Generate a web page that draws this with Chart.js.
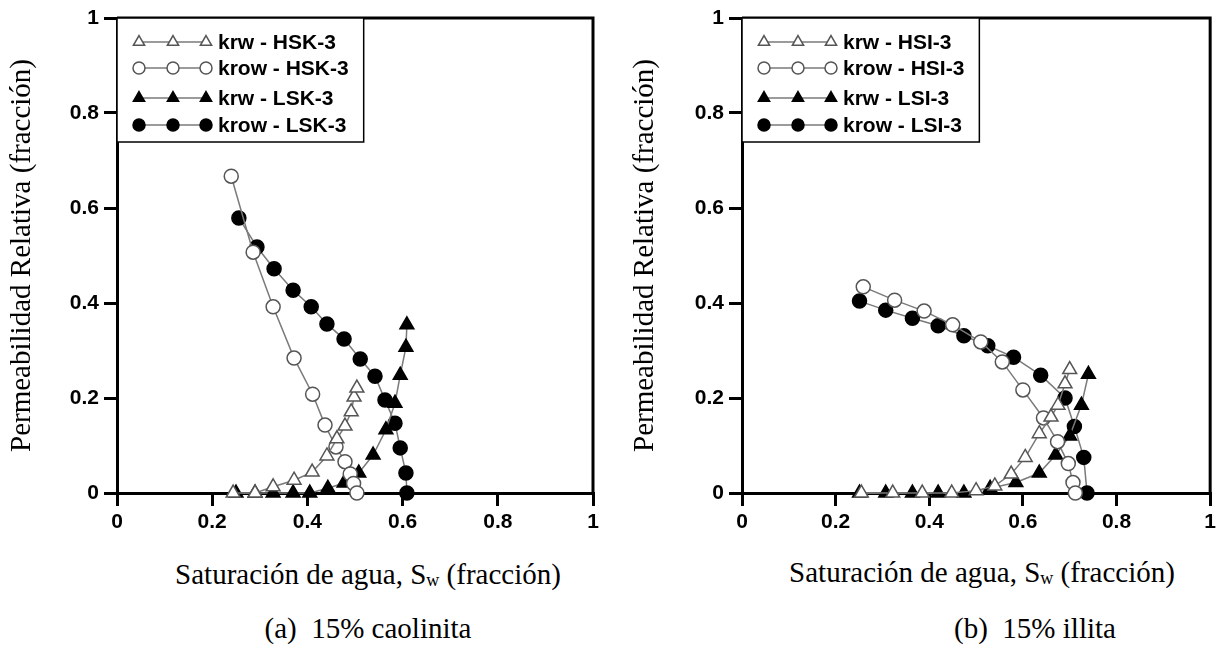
<!DOCTYPE html>
<html>
<head>
<meta charset="utf-8">
<script src="https://cdn.jsdelivr.net/npm/chart.js@4/dist/chart.umd.min.js"></script>
<style>
  body { margin: 0; background: #fff; width: 1220px; height: 657px; position: relative; overflow: hidden; }
  canvas { position: absolute; top: 0; }
  #c1 { left: 0; }
  #c2 { left: 620px; }
  .lbl { position: absolute; font-family: "Liberation Serif", "Times New Roman", serif; font-size: 29px; color: #000; white-space: nowrap; transform: translate(-50%, -50%); }
  .lbl sub { font-size: 18px; vertical-align: baseline; position: relative; top: 2px; }
</style>
</head>
<body>
<canvas id="c1" width="620" height="540"></canvas>
<canvas id="c2" width="600" height="540"></canvas>
<div class="lbl" style="left:368px; top:574px;">Saturación de agua, S<sub>w</sub>&nbsp;(fracción)</div>
<div class="lbl" style="left:368px; top:628px;">(a)&nbsp; 15% caolinita</div>
<div class="lbl" style="left:982px; top:572px;">Saturación de agua, S<sub>w</sub>&nbsp;(fracción)</div>
<div class="lbl" style="left:1035px; top:628px;">(b)&nbsp; 15% illita</div>
<script>
// (a) 15% caolinita
const krwHSK_x = [0.244, 0.29, 0.328, 0.372, 0.41, 0.441, 0.462, 0.479, 0.492, 0.498, 0.504];
const krwHSK_y = [0, 0, 0.013, 0.027, 0.044, 0.078, 0.114, 0.141, 0.171, 0.202, 0.221];
const krowHSK_x = [0.24, 0.286, 0.328, 0.372, 0.411, 0.437, 0.46, 0.479, 0.49, 0.497, 0.504];
const krowHSK_y = [0.667, 0.507, 0.392, 0.284, 0.208, 0.143, 0.097, 0.066, 0.04, 0.02, 0];
const krwLSK_x = [0.25, 0.29, 0.328, 0.37, 0.405, 0.443, 0.477, 0.508, 0.538, 0.565, 0.584, 0.595, 0.607, 0.609];
const krwLSK_y = [0, 0, 0, 0, 0, 0.01, 0.021, 0.042, 0.08, 0.133, 0.189, 0.248, 0.307, 0.354];
const krowLSK_x = [0.256, 0.294, 0.33, 0.37, 0.408, 0.441, 0.477, 0.511, 0.542, 0.563, 0.584, 0.595, 0.607, 0.609];
const krowLSK_y = [0.579, 0.518, 0.472, 0.427, 0.392, 0.356, 0.324, 0.282, 0.246, 0.196, 0.147, 0.095, 0.042, 0];

// (b) 15% illita
const krwHSI_x = [0.255, 0.322, 0.385, 0.448, 0.5, 0.54, 0.575, 0.605, 0.635, 0.66, 0.675, 0.69, 0.7];
const krwHSI_y = [0, 0, 0, 0, 0.005, 0.015, 0.04, 0.075, 0.125, 0.16, 0.185, 0.23, 0.26];
const krowHSI_x = [0.259, 0.326, 0.389, 0.45, 0.51, 0.556, 0.6, 0.644, 0.674, 0.697, 0.707, 0.712];
const krowHSI_y = [0.434, 0.406, 0.383, 0.354, 0.318, 0.276, 0.217, 0.158, 0.108, 0.062, 0.022, 0];
const krwLSI_x = [0.251, 0.307, 0.364, 0.419, 0.474, 0.53, 0.585, 0.635, 0.67, 0.7, 0.725, 0.74];
const krwLSI_y = [0, 0, 0, 0, 0, 0.01, 0.022, 0.042, 0.08, 0.12, 0.185, 0.25];
const krowLSI_x = [0.251, 0.307, 0.364, 0.419, 0.474, 0.525, 0.58, 0.638, 0.69, 0.71, 0.73, 0.737];
const krowLSI_y = [0.404, 0.385, 0.368, 0.352, 0.331, 0.31, 0.286, 0.248, 0.2, 0.14, 0.075, 0];

const labelsA = ['krw - HSK-3', 'krow - HSK-3', 'krw - LSK-3', 'krow - LSK-3'];
const labelsB = ['krw - HSI-3', 'krow - HSI-3', 'krw - LSI-3', 'krow - LSI-3'];
const yTitle = 'Permeabilidad Relativa (fracción)';

function pts(xs, ys) {
    return xs.map((x, i) => ({x: x, y: ys[i]}));
}

function makeSet(label, data, style, filled) {
    return {
        label: label,
        data: data,
        showLine: true,
        borderColor: '#7a7a7a',
        borderWidth: 1.5,
        pointStyle: style,
        pointRadius: style == 'triangle' ? 8 : 7,
        pointBackgroundColor: filled ? '#000' : '#fff',
        pointBorderColor: filled ? '#000' : '#555',
        pointBorderWidth: 1.5,
        clip: false
    };
}

// legend with three markers per row, like the original figure
const bigLegend = {
    id: 'bigLegend',
    afterDatasetsDraw(chart) {
        const ctx = chart.ctx;
        const a = chart.chartArea;
        const sets = chart.data.datasets;
        ctx.save();
        ctx.font = 'bold 21px "Liberation Sans", Arial, sans-serif';
        let w = 0;
        sets.forEach(s => { w = Math.max(w, ctx.measureText(s.label).width); });
        const left = a.left, top = a.top;
        const boxW = 102 + w + 14, boxH = 124;
        ctx.fillStyle = '#fff';
        ctx.fillRect(left, top, boxW, boxH);
        ctx.strokeStyle = '#000';
        ctx.lineWidth = 1.5;
        ctx.strokeRect(left, top, boxW, boxH);
        const rows = [24, 50, 80, 107];
        const mx = [22, 56, 89];
        sets.forEach((s, i) => {
            const y = top + rows[i];
            ctx.strokeStyle = '#7a7a7a';
            ctx.lineWidth = 1.5;
            ctx.beginPath();
            ctx.moveTo(left + mx[0], y);
            ctx.lineTo(left + mx[2], y);
            ctx.stroke();
            ctx.fillStyle = s.pointBackgroundColor;
            ctx.strokeStyle = s.pointBorderColor;
            ctx.lineWidth = 1.5;
            mx.forEach(m => {
                Chart.helpers.drawPoint(ctx, {pointStyle: s.pointStyle, radius: s.pointStyle == 'triangle' ? 6.5 : 6, rotation: 0, borderWidth: 1.5}, left + m, y);
            });
            ctx.fillStyle = '#000';
            ctx.textBaseline = 'middle';
            ctx.fillText(s.label, left + 101, y + 1);
        });
        ctx.restore();
    }
};

// top and right frame lines
const frame = {
    id: 'frame',
    beforeDatasetsDraw(chart) {
        const ctx = chart.ctx;
        const a = chart.chartArea;
        ctx.save();
        ctx.strokeStyle = '#000';
        ctx.lineWidth = 3;
        ctx.beginPath();
        ctx.moveTo(a.left, a.top);
        ctx.lineTo(a.right, a.top);
        ctx.lineTo(a.right, a.bottom);
        ctx.stroke();
        ctx.restore();
    }
};

function tickText(v) {
    return String(Math.round(v * 10) / 10);
}

function makePlot(id, sets, padLeft, yWidth, padRight) {
    const ctx = document.getElementById(id).getContext('2d');
    const tickFont = {family: '"Liberation Sans", Arial, sans-serif', size: 21, weight: 'bold'};
    return new Chart(ctx, {
        type: 'scatter',
        data: {datasets: sets},
        plugins: [frame, bigLegend],
        options: {
            responsive: false,
            animation: false,
            layout: {padding: {left: padLeft, top: 18, right: padRight, bottom: 0}},
            plugins: {legend: {display: false}, tooltip: {enabled: false}},
            scales: {
                x: {
                    type: 'linear', min: 0, max: 1,
                    ticks: {stepSize: 0.2, color: '#000', font: tickFont, padding: 4, maxRotation: 0, callback: tickText},
                    grid: {display: true, drawOnChartArea: false, tickLength: 13, lineWidth: 3, color: '#000'},
                    border: {display: true, width: 3, color: '#000'},
                    afterFit(scale) { scale.height = 47; }
                },
                y: {
                    type: 'linear', min: 0, max: 1,
                    ticks: {stepSize: 0.2, color: '#000', font: tickFont, padding: 5, callback: tickText},
                    grid: {display: true, drawOnChartArea: false, tickLength: 13, lineWidth: 3, color: '#000'},
                    border: {display: true, width: 3, color: '#000'},
                    title: {display: true, text: yTitle, color: '#000', padding: 0,
                        font: {family: '"Liberation Serif", "Times New Roman", serif', size: 29}},
                    afterFit(scale) { scale.width = yWidth; }
                }
            }
        }
    });
}

const setsA = [
    makeSet(labelsA[0], pts(krwHSK_x, krwHSK_y), 'triangle', false),
    makeSet(labelsA[1], pts(krowHSK_x, krowHSK_y), 'circle', false),
    makeSet(labelsA[2], pts(krwLSK_x, krwLSK_y), 'triangle', true),
    makeSet(labelsA[3], pts(krowLSK_x, krowLSK_y), 'circle', true)
];
const setsB = [
    makeSet(labelsB[0], pts(krwHSI_x, krwHSI_y), 'triangle', false),
    makeSet(labelsB[1], pts(krowHSI_x, krowHSI_y), 'circle', false),
    makeSet(labelsB[2], pts(krwLSI_x, krwLSI_y), 'triangle', true),
    makeSet(labelsB[3], pts(krowLSI_x, krowLSI_y), 'circle', true)
];

makePlot('c1', setsA, 5, 112, 27);
makePlot('c2', setsB, 8, 114, 3);
</script>
</body>
</html>
